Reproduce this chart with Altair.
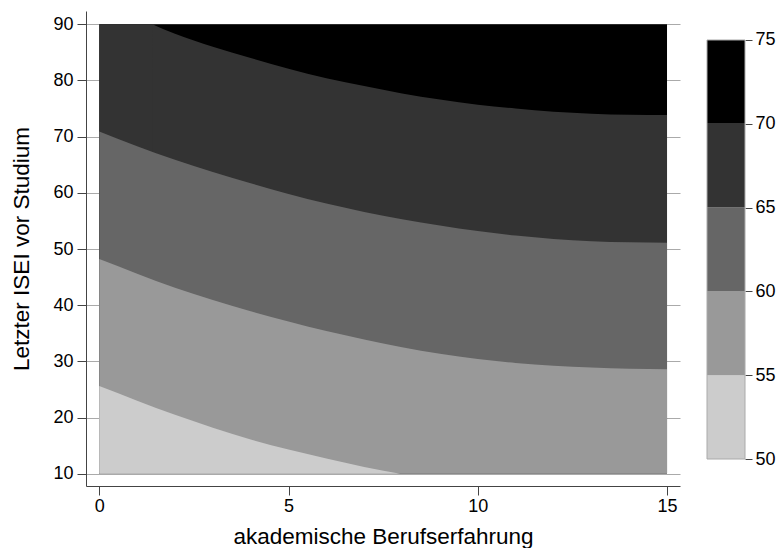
import altair as alt
import pandas as pd

# ---- data: contour boundaries y(x) between the level bands ----
top_x = [0, 15]
top_y = [90, 90]

# 65-70 band: flat at the top edge up to x=1.4, then the 70 contour
b70_top_x = [0, 1.45]
b70_top_y = [90, 90]
b70_x = [1.4, 2, 3, 4, 5, 6, 7, 8, 9, 10, 11, 12, 13, 14, 15]
b70_y = [90.0, 88.3, 86.0, 84.0, 82.1, 80.4, 79.0, 77.7, 76.6, 75.7, 75.0, 74.45, 74.1, 73.9, 73.85]

b65_x = [0, 1, 2, 3, 4, 5, 6, 7, 8, 9, 10, 11, 12, 13, 14, 15]
b65_y = [70.9, 68.3, 65.9, 63.7, 61.7, 59.8, 58.1, 56.6, 55.3, 54.2, 53.2, 52.4, 51.8, 51.4, 51.2, 51.1]

b60_x = [0, 1, 2, 3, 4, 5, 6, 7, 8, 9, 10, 11, 12, 13, 14, 15]
b60_y = [48.2, 45.6, 43.1, 40.9, 38.9, 37.1, 35.4, 33.9, 32.5, 31.35, 30.4, 29.7, 29.2, 28.9, 28.7, 28.6]

b55_x = [0, 1, 2, 3, 4, 5, 6, 7, 7.95]
b55_y = [25.6, 23.0, 20.5, 18.2, 16.1, 14.3, 12.7, 11.2, 10.0]

band_colors = ["#000000", "#333333", "#333333", "#666666", "#999999", "#cccccc"]

legend_lo = [50, 55, 60, 65, 70]
legend_hi = [55, 60, 65, 70, 75]
legend_colors = ["#cccccc", "#999999", "#666666", "#333333", "#000000"]

x_ticks = [0, 5, 10, 15]
y_ticks = [10, 20, 30, 40, 50, 60, 70, 80, 90]
legend_ticks = [50, 55, 60, 65, 70, 75]

Y_BASE = 10
FONT = "Liberation Sans"

xscale = alt.Scale(domain=[-0.351, 15.343], nice=False, zero=False)
yscale = alt.Scale(domain=[7.81, 92.37], nice=False, zero=False)

xaxis = alt.Axis(values=x_ticks, grid=False, tickSize=9, tickColor="#444444",
                 domainColor="#444444", labelFontSize=18, labelPadding=2,
                 labelColor="#000000", labelFont=FONT,
                 title="akademische Berufserfahrung", titleFontSize=22.5,
                 titleFontWeight="normal", titleColor="#000000", titleFont=FONT,
                 titlePadding=10)
yaxis = alt.Axis(values=y_ticks, grid=True, gridColor="#aaaaaa", gridWidth=1,
                 tickSize=9, tickColor="#444444", domainColor="#444444",
                 labelFontSize=18, labelPadding=4, labelColor="#000000",
                 labelFont=FONT, title="Letzter ISEI vor Studium",
                 titleFontSize=22.5, titleFontWeight="normal",
                 titleColor="#000000", titleFont=FONT, titlePadding=19)

curves = [(top_x, top_y), (b70_top_x, b70_top_y), (b70_x, b70_y),
          (b65_x, b65_y), (b60_x, b60_y), (b55_x, b55_y)]

layers = []
for (xs, ys), col in zip(curves, band_colors):
    df = pd.DataFrame({"x": xs, "y": ys})
    layers.append(
        alt.Chart(df).mark_area(color=col, interpolate="monotone").encode(
            x=alt.X("x:Q", scale=xscale, axis=xaxis),
            y=alt.Y("y:Q", scale=yscale, axis=yaxis),
            y2=alt.datum(Y_BASE),
        )
    )

main = alt.layer(*layers).properties(width=594, height=475)

leg_df = pd.DataFrame({"lo": legend_lo, "hi": legend_hi, "color": legend_colors})
leg_scale = alt.Scale(domain=[48.39, 76.73], nice=False, zero=False)
leg_axis = alt.Axis(values=legend_ticks, orient="right", grid=False, domain=False,
                    tickSize=7, tickColor="#444444", labelFontSize=18,
                    labelPadding=3, labelColor="#000000", labelFont=FONT,
                    title=None)

leg_rects = alt.Chart(leg_df).mark_rect().encode(
    y=alt.Y("lo:Q", scale=leg_scale, axis=leg_axis),
    y2="hi:Q",
    color=alt.Color("color:N", scale=None),
)
outline_df = pd.DataFrame({"lo": [min(legend_lo)], "hi": [max(legend_hi)]})
leg_outline = alt.Chart(outline_df).mark_rect(fillOpacity=0, stroke="#aaaaaa", strokeWidth=1).encode(
    y=alt.Y("lo:Q", scale=leg_scale, axis=leg_axis),
    y2="hi:Q",
)
legend = alt.layer(leg_rects, leg_outline).properties(width=38, height=475)

chart = alt.hconcat(main, legend, spacing=26).properties(
    padding={"left": 2, "top": 3, "right": 0, "bottom": 0},
    background="white",
).configure_view(strokeWidth=0)

chart.save("out.html", embed_options={"renderer": "svg", "actions": False})
